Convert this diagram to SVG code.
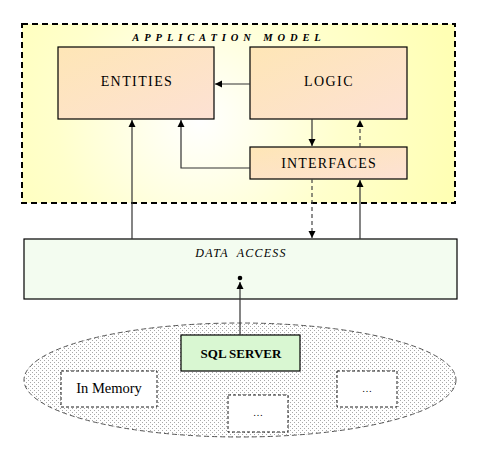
<svg xmlns="http://www.w3.org/2000/svg" width="481" height="457" viewBox="0 0 481 457">
<style>
.box{stroke:#000;stroke-width:1.2}
.t{font-family:"Liberation Serif","Times New Roman","DejaVu Serif",serif;fill:#000;text-anchor:middle}
.ln{fill:none;stroke:#333;stroke-width:1.2}
.dl{fill:none;stroke:#444;stroke-width:1.2;stroke-dasharray:4,3}
.db{fill:#fff;stroke:#000;stroke-width:0.9;stroke-dasharray:3,2}
</style>
<defs>
<radialGradient id="bg" cx="200" cy="120" r="260" gradientUnits="userSpaceOnUse">
<stop offset="0" stop-color="#ffffff"/>
<stop offset="0.55" stop-color="#ffffcc"/>
<stop offset="1" stop-color="#ffffb4"/>
</radialGradient>
<linearGradient id="pe" x1="0" y1="0" x2="1" y2="1">
<stop offset="0" stop-color="#fee6b6"/>
<stop offset="1" stop-color="#fde1d4"/>
</linearGradient>
<pattern id="dots" width="4" height="4" patternUnits="userSpaceOnUse">
<rect width="4" height="4" fill="#fff"/>
<rect x="0" y="0" width="1" height="1" fill="#a8a8a8"/>
<rect x="2" y="2" width="1" height="1" fill="#a8a8a8"/>
</pattern>
<marker id="ar" markerWidth="8" markerHeight="8" refX="7" refY="4" orient="auto" markerUnits="userSpaceOnUse">
<path d="M0,0.5 L7,4 L0,7.5 Z" fill="#000"/>
</marker>
</defs>
<rect width="481" height="457" fill="#fff"/>

<g id="app-model">
<rect x="22" y="24" width="433" height="179" fill="url(#bg)" stroke="#000" stroke-width="2" stroke-dasharray="6,4"/>
<text class="t" x="229" y="41" font-size="10.5" font-weight="bold" font-style="italic" letter-spacing="4.9">APPLICATION MODEL</text>
</g>

<g id="storage">
<ellipse cx="240" cy="380" rx="216" ry="57" fill="url(#dots)" stroke="#555" stroke-width="1" stroke-dasharray="5,3"/>
</g>

<g id="entities">
<rect class="box" x="58" y="47" width="156" height="72" fill="url(#pe)"/>
<text class="t" x="137" y="86" font-size="14" letter-spacing="1.4">ENTITIES</text>
</g>
<g id="logic">
<rect class="box" x="250" y="47" width="157" height="72" fill="url(#pe)"/>
<text class="t" x="329" y="86" font-size="14" letter-spacing="1.4">LOGIC</text>
</g>
<g id="interfaces">
<rect class="box" x="250" y="147" width="157" height="32" fill="url(#pe)"/>
<text class="t" x="329" y="168" font-size="14" letter-spacing="1.2">INTERFACES</text>
</g>
<g id="data-access">
<rect class="box" x="24" y="239" width="433" height="60" fill="#f3fcf0"/>
<text class="t" x="241" y="257" font-size="12" font-style="italic" letter-spacing="1.2" xml:space="preserve">DATA  ACCESS</text>
</g>
<g id="sql-server">
<rect class="box" x="181" y="335" width="119" height="36" fill="#d9f7d2"/>
<text class="t" x="241" y="358" font-size="13" font-weight="bold">SQL SERVER</text>
</g>
<g id="in-memory">
<rect class="db" x="61" y="371" width="96" height="36"/>
<text class="t" x="109" y="393" font-size="14.5">In Memory</text>
</g>
<g id="other1">
<rect class="db" x="228" y="395" width="60" height="37"/>
<text class="t" x="258" y="416" font-size="10">…</text>
</g>
<g id="other2">
<rect class="db" x="337" y="371" width="60" height="36"/>
<text class="t" x="367" y="392" font-size="10">…</text>
</g>

<g id="connectors">
<path class="ln" d="M250,84 H215" marker-end="url(#ar)"/>
<path class="ln" d="M132,239 V120" marker-end="url(#ar)"/>
<path class="ln" d="M250,168 H181 V120" marker-end="url(#ar)"/>
<path class="ln" d="M312,119 V146" marker-end="url(#ar)"/>
<path class="dl" d="M360,147 V120" marker-end="url(#ar)"/>
<path class="dl" d="M312,179 V238" marker-end="url(#ar)"/>
<path class="ln" d="M360,239 V180" marker-end="url(#ar)"/>
<path class="ln" d="M240,335 V282" marker-end="url(#ar)"/>
<circle cx="240" cy="278" r="2.3" fill="#000"/>
</g>
</svg>
